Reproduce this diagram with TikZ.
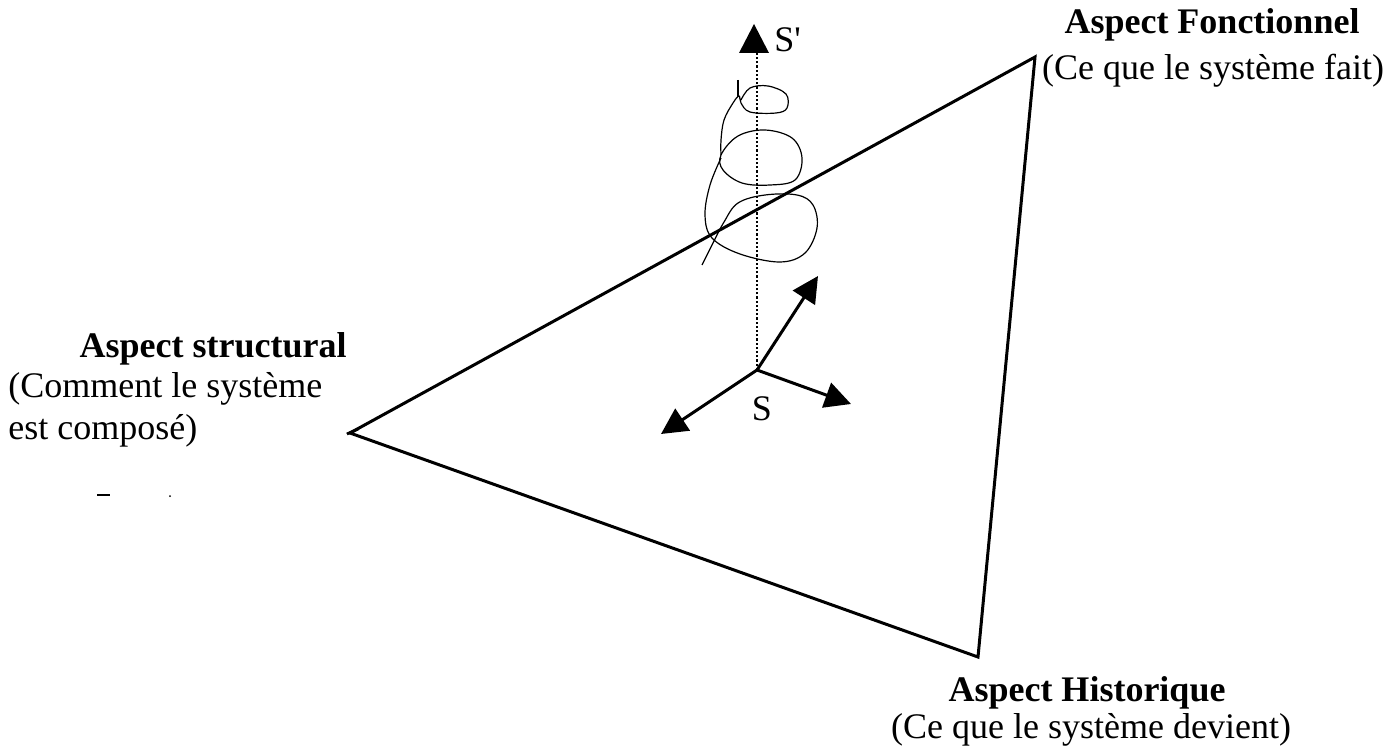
\documentclass[tikz,border=0pt]{standalone}
\usepackage{fontspec}
\setmainfont{Liberation Serif}
\usetikzlibrary{arrows.meta}
\begin{document}
\begin{tikzpicture}[x=0.5pt,y=-0.5pt,
  lbl/.style={inner sep=0pt,font=\fontsize{18}{21}\selectfont},
  edge/.style={line width=1.5pt,line join=miter},
  vec/.style={line width=1.5pt,-{Triangle[length=13pt,width=13pt]}},
  axis/.style={line width=1.1pt,densely dotted},
  helix/.style={line width=0.6pt}]
\useasboundingbox (0,0) rectangle (1397,749);
% triangle vertices
\coordinate (A) at (350,433);
\coordinate (F) at (1035,57);
\coordinate (H) at (978,657);
\draw[edge] (A) -- (F) -- (H) -- cycle;
\draw[line width=1.4pt] (347,434) -- (358,429);
% axis
\coordinate (S) at (757,370);
\coordinate (Sp) at (757,52);
\draw[axis] (S) -- (Sp);
\fill (739,53) -- (754,24) -- (769,53) -- cycle;
\node[lbl,anchor=base west] (lSp) at (774,52) {S\textquotesingle};
% vectors
\coordinate (V1) at (818,276);
\coordinate (V2) at (851,404);
\coordinate (V3) at (661,434);
\draw[vec] (S) -- (V1);
\draw[vec] (S) -- (V2);
\draw[vec] (S) -- (V3);
\node[lbl,anchor=base] (lS) at (762,420) {S};
% helix
\draw[helix] (738,80) -- (738,97);
\draw[helix] plot[smooth,tension=0.6] coordinates {(741,100) (750,88) (768,86) (786,94) (787,108) (776,113) (750,112) (741,103) (739,96) (733,103) (724,120) (721,140) (721,155)};
\draw[helix] plot[smooth cycle,tension=0.6] coordinates {(721,155) (738,136) (765,130) (792,138) (802,158) (795,180) (770,185) (742,183) (723,170)};
\draw[helix] plot[smooth,tension=0.6] coordinates {(721,158) (710,185) (705,215) (712,238) (740,254) (780,262) (805,253) (817,228) (813,205) (797,195) (765,195) (738,203) (724,222) (713,243) (702,265)};
% stray marks
\draw[line width=0.8pt] (97,495) -- (110,495);
\fill (170,496) circle (1);
% labels
\node[lbl,anchor=base east] (tA1) at (347,357) {\bfseries Aspect structural};
\node[lbl,anchor=base west] (tA2) at (8,397) {(Comment le système};
\node[lbl,anchor=base west] (tA3) at (8,439) {est composé)};
\node[lbl,anchor=base] (tF1) at (1212,34) {\bfseries Aspect Fonctionnel};
\node[lbl,anchor=base] (tF2) at (1213,80) {(Ce que le système fait)};
\node[lbl,anchor=base] (tH1) at (1087,701) {\bfseries Aspect Historique};
\node[lbl,anchor=base] (tH2) at (1091,738) {(Ce que le système devient)};
\end{tikzpicture}
\end{document}
